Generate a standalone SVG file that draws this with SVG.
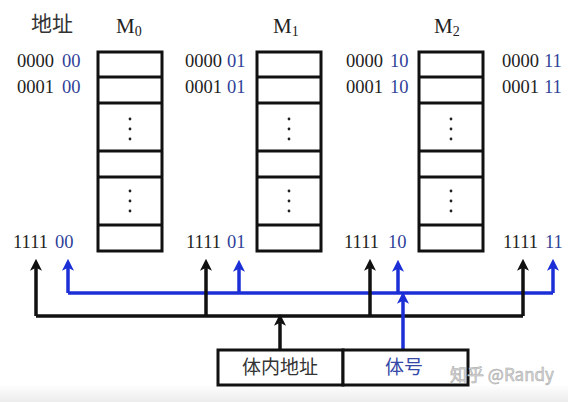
<svg xmlns="http://www.w3.org/2000/svg" width="568" height="402" viewBox="0 0 568 402">
<defs>
<linearGradient id="fade" x1="0" y1="0" x2="0" y2="1"><stop offset="0" stop-color="#ffffff"/><stop offset="1" stop-color="#ececec"/></linearGradient>
<marker id="ahK" viewBox="0 0 10 10" refX="6.5" refY="5" markerWidth="12" markerHeight="12" markerUnits="userSpaceOnUse" orient="auto"><path d="M0,0 L10,5 L0,10 L2.5,5 z" fill="#111"/></marker>
<marker id="ahB" viewBox="0 0 10 10" refX="6.5" refY="5" markerWidth="12" markerHeight="12" markerUnits="userSpaceOnUse" orient="auto"><path d="M0,0 L10,5 L0,10 L2.5,5 z" fill="#1c2fd6"/></marker>
</defs>
<style>
.mem{fill:#fff;stroke:#111;stroke-width:3}
.row{stroke:#111;stroke-width:3}
.dot{fill:#222}
.num{font-family:"Liberation Serif",serif;font-size:18.5px;fill:#222}
.bl{fill:#2f3f98}
.lab{font-family:"Liberation Serif",serif;font-size:21px;fill:#222}
.sub{font-size:14px}
.cjk{font-family:"Liberation Serif","Noto Sans CJK SC",serif;fill:#333}
.k{stroke:#111;stroke-width:3.5;fill:none}
.b{stroke:#1c2fd6;stroke-width:3.5;fill:none}
.box{fill:#fff;stroke:#111;stroke-width:3}
</style>
<rect x="0" y="0" width="568" height="402" fill="#fff"/>
<rect x="0" y="384" width="568" height="18" fill="url(#fade)"/>

<text class="cjk" x="31" y="31" font-size="21">地址</text>

<g id="M0">
<text class="lab" x="116" y="33">M<tspan class="sub" dy="3">0</tspan></text>
<rect class="mem" x="98" y="52" width="64" height="199"/>
<path class="row" d="M98,77H162M98,103H162M98,151H162M98,177H162M98,225H162"/>
<circle class="dot" cx="130" cy="119" r="1.4"/><circle class="dot" cx="130" cy="129" r="1.4"/><circle class="dot" cx="130" cy="139" r="1.4"/>
<circle class="dot" cx="130" cy="191" r="1.4"/><circle class="dot" cx="130" cy="201" r="1.4"/><circle class="dot" cx="130" cy="211" r="1.4"/>
</g>
<g id="M1">
<text class="lab" x="273" y="33">M<tspan class="sub" dy="3">1</tspan></text>
<rect class="mem" x="257" y="52" width="64" height="199"/>
<path class="row" d="M257,77H321M257,103H321M257,151H321M257,177H321M257,225H321"/>
<circle class="dot" cx="289" cy="119" r="1.4"/><circle class="dot" cx="289" cy="129" r="1.4"/><circle class="dot" cx="289" cy="139" r="1.4"/>
<circle class="dot" cx="289" cy="191" r="1.4"/><circle class="dot" cx="289" cy="201" r="1.4"/><circle class="dot" cx="289" cy="211" r="1.4"/>
</g>
<g id="M2">
<text class="lab" x="434" y="33">M<tspan class="sub" dy="3">2</tspan></text>
<rect class="mem" x="419" y="52" width="64" height="199"/>
<path class="row" d="M419,77H483M419,103H483M419,151H483M419,177H483M419,225H483"/>
<circle class="dot" cx="451" cy="119" r="1.4"/><circle class="dot" cx="451" cy="129" r="1.4"/><circle class="dot" cx="451" cy="139" r="1.4"/>
<circle class="dot" cx="451" cy="191" r="1.4"/><circle class="dot" cx="451" cy="201" r="1.4"/><circle class="dot" cx="451" cy="211" r="1.4"/>
</g>

<g id="addr0">
<text class="num" x="17" y="67">0000<tspan class="bl" x="62">00</tspan></text>
<text class="num" x="17" y="93">0001<tspan class="bl" x="62">00</tspan></text>
<text class="num" x="13" y="248">1111<tspan class="bl" x="55">00</tspan></text>
</g>
<g id="addr1">
<text class="num" x="185" y="67">0000<tspan class="bl" x="227">01</tspan></text>
<text class="num" x="185" y="93">0001<tspan class="bl" x="227">01</tspan></text>
<text class="num" x="186" y="248">1111<tspan class="bl" x="227">01</tspan></text>
</g>
<g id="addr2">
<text class="num" x="346" y="67">0000<tspan class="bl" x="390">10</tspan></text>
<text class="num" x="346" y="93">0001<tspan class="bl" x="390">10</tspan></text>
<text class="num" x="344" y="248">1111<tspan class="bl" x="388">10</tspan></text>
</g>
<g id="addr3">
<text class="num" x="502" y="67">0000<tspan class="bl" x="544">11</tspan></text>
<text class="num" x="502" y="93">0001<tspan class="bl" x="544">11</tspan></text>
<text class="num" x="503" y="248">1111<tspan class="bl" x="545">11</tspan></text>
</g>

<g id="connectors">
<path class="b" d="M68,293H553"/>
<path class="k" d="M36,316H523"/>
<path class="k" d="M36,316V263" marker-end="url(#ahK)"/>
<path class="k" d="M206,316V263" marker-end="url(#ahK)"/>
<path class="k" d="M370,316V263" marker-end="url(#ahK)"/>
<path class="k" d="M523,316V263" marker-end="url(#ahK)"/>
<path class="b" d="M68,293V263" marker-end="url(#ahB)"/>
<path class="b" d="M239,293V264" marker-end="url(#ahB)"/>
<path class="b" d="M398,293V264" marker-end="url(#ahB)"/>
<path class="b" d="M553,293V263" marker-end="url(#ahB)"/>
<path class="k" d="M280,350V318" marker-end="url(#ahK)"/>
<path class="b" d="M403,350V296" marker-end="url(#ahB)"/>
</g>

<g id="inner">
<rect class="box" x="218" y="350" width="125" height="35"/>
<text class="cjk" x="280" y="374" font-size="19" text-anchor="middle">体内地址</text>
</g>
<g id="bank">
<rect class="box" x="343" y="350" width="125" height="35"/>
<text class="cjk" x="404" y="374" font-size="19" text-anchor="middle" style="fill:#3548a8">体号</text>
</g>

<text x="450" y="381" font-family="'Noto Sans CJK SC',sans-serif" font-size="17" fill="#d6d6d6" stroke="#a8a8a8" stroke-width="0.5">知乎 @Randy</text>
</svg>
